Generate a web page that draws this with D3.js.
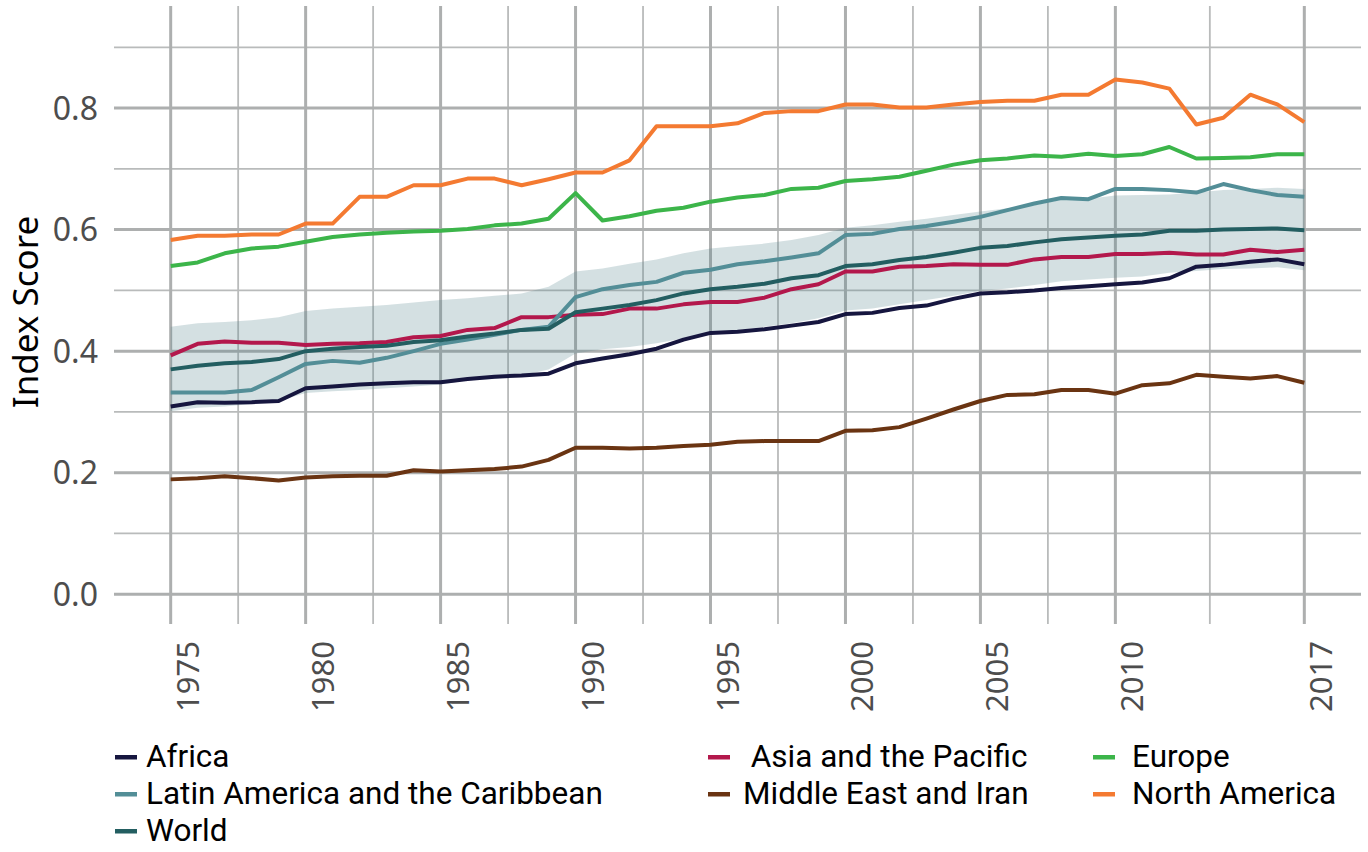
<!DOCTYPE html>
<html>
<head>
<meta charset="utf-8">
<script src="https://cdn.jsdelivr.net/npm/d3@7"></script>
<style>
  body { margin: 0; background: #fff; }
  svg { display: block; }
</style>
</head>
<body>
<script>
var years = d3.range(1975, 2018)

var africa = [0.309,0.316,0.315,0.316,0.318,0.339,0.342,0.345,0.347,0.349,0.349,0.354,0.358,0.360,0.363,
  0.380,0.388,0.395,0.404,0.419,0.430,0.432,0.436,0.442,0.448,0.461,0.463,0.471,0.475,0.486,
  0.495,0.497,0.500,0.504,0.507,0.510,0.513,0.520,0.539,0.542,0.547,0.551,0.543]
var asia = [0.393,0.412,0.416,0.414,0.414,0.410,0.412,0.413,0.415,0.423,0.425,0.435,0.438,0.456,0.456,
  0.460,0.461,0.470,0.470,0.477,0.481,0.481,0.488,0.502,0.510,0.531,0.531,0.539,0.540,0.543,
  0.542,0.542,0.551,0.555,0.555,0.560,0.560,0.562,0.559,0.559,0.567,0.563,0.567]
var europe = [0.540,0.546,0.561,0.569,0.572,0.580,0.588,0.592,0.595,0.597,0.598,0.601,0.607,0.610,0.618,
  0.660,0.615,0.622,0.631,0.636,0.646,0.653,0.657,0.667,0.669,0.680,0.683,0.687,0.697,0.707,
  0.714,0.717,0.722,0.720,0.725,0.721,0.724,0.736,0.717,0.718,0.719,0.724,0.724]
var latam = [0.332,0.332,0.332,0.336,0.357,0.379,0.384,0.381,0.389,0.400,0.412,0.419,0.427,0.435,0.440,
  0.489,0.502,0.509,0.514,0.529,0.534,0.543,0.548,0.554,0.561,0.591,0.593,0.601,0.606,0.613,
  0.621,0.632,0.643,0.652,0.650,0.667,0.667,0.665,0.661,0.675,0.665,0.657,0.654]
var mideast = [0.189,0.191,0.194,0.191,0.187,0.192,0.194,0.195,0.195,0.204,0.202,0.204,0.206,0.210,0.221,
  0.241,0.241,0.240,0.241,0.244,0.246,0.251,0.252,0.252,0.252,0.269,0.270,0.275,0.289,0.304,
  0.318,0.328,0.329,0.336,0.336,0.330,0.344,0.347,0.361,0.358,0.355,0.359,0.348]
var namerica = [0.583,0.590,0.590,0.592,0.592,0.610,0.610,0.654,0.654,0.673,0.673,0.684,0.684,0.673,0.683,
  0.694,0.694,0.714,0.770,0.770,0.770,0.775,0.792,0.795,0.795,0.806,0.806,0.801,0.801,0.806,
  0.810,0.812,0.812,0.822,0.822,0.847,0.842,0.832,0.773,0.784,0.822,0.806,0.777]
var world = [0.370,0.376,0.380,0.382,0.387,0.400,0.404,0.407,0.409,0.415,0.418,0.424,0.429,0.435,0.437,
  0.464,0.470,0.476,0.484,0.495,0.502,0.506,0.511,0.520,0.525,0.540,0.543,0.550,0.555,0.562,
  0.570,0.573,0.579,0.584,0.587,0.590,0.592,0.598,0.598,0.600,0.601,0.602,0.599]
var worldLow = [0.301,0.307,0.309,0.313,0.318,0.331,0.334,0.336,0.339,0.342,0.345,0.352,0.354,0.360,0.370,
  0.396,0.403,0.407,0.413,0.421,0.430,0.435,0.440,0.446,0.454,0.467,0.470,0.477,0.484,0.491,
  0.499,0.503,0.509,0.515,0.518,0.521,0.523,0.529,0.532,0.535,0.536,0.538,0.533]
var worldHigh = [0.440,0.446,0.448,0.451,0.456,0.466,0.470,0.473,0.476,0.480,0.484,0.487,0.491,0.495,0.506,
  0.531,0.536,0.544,0.551,0.561,0.569,0.573,0.577,0.583,0.591,0.603,0.607,0.613,0.618,0.624,
  0.630,0.635,0.640,0.649,0.651,0.656,0.657,0.658,0.661,0.665,0.667,0.669,0.667]

var regions = ['Africa', 'Asia and the Pacific', 'Europe', 'Latin America and the Caribbean',
  'Middle East and Iran', 'North America', 'World']
var values = [africa, asia, europe, latam, mideast, namerica, world]
var colors = ['#16163f', '#b3184c', '#3cb54a', '#538e97', '#6a3412', '#f47a31', '#235e61']

var xBreaks = [1975, 1980, 1985, 1990, 1995, 2000, 2005, 2010, 2017]
var yBreaks = [0, 0.2, 0.4, 0.6, 0.8]

var W = 1368, H = 852
var panel = {left: 114, right: 1361, top: 6, bottom: 624}

var x = d3.scaleLinear().domain([1975 - 2.1, 2017 + 2.1]).range([panel.left, panel.right])
var y = d3.scaleLinear().domain([-0.049, 0.968]).range([panel.bottom, panel.top])

var svg = d3.select('body').append('svg')
  .attr('width', W)
  .attr('height', H)

// minor breaks are the midpoints between majors
var xMinor = d3.pairs(xBreaks).map(p => (p[0] + p[1]) / 2)
var yMinor = d3.pairs(yBreaks).map(p => (p[0] + p[1]) / 2).concat([0.9])

var grid = svg.append('g').attr('stroke', '#adafaf')
grid.selectAll('.ymin').data(yMinor).enter().append('line')
  .attr('x1', panel.left).attr('x2', panel.right)
  .attr('y1', d => y(d)).attr('y2', d => y(d))
  .attr('stroke-width', 1.8).attr('stroke', '#b9bbbb')
grid.selectAll('.xmin').data(xMinor).enter().append('line')
  .attr('y1', panel.top).attr('y2', panel.bottom)
  .attr('x1', d => x(d)).attr('x2', d => x(d))
  .attr('stroke-width', 1.8).attr('stroke', '#b9bbbb')
grid.selectAll('.ymaj').data(yBreaks).enter().append('line')
  .attr('x1', panel.left).attr('x2', panel.right)
  .attr('y1', d => y(d)).attr('y2', d => y(d))
  .attr('stroke-width', 3)
grid.selectAll('.xmaj').data(xBreaks).enter().append('line')
  .attr('y1', panel.top).attr('y2', panel.bottom)
  .attr('x1', d => x(d)).attr('x2', d => x(d))
  .attr('stroke-width', 3)

// band around the world average
var area = d3.area()
  .x((d, i) => x(years[i]))
  .y0((d, i) => y(worldLow[i]))
  .y1((d, i) => y(worldHigh[i]))
svg.append('path')
  .datum(worldLow)
  .attr('d', area)
  .attr('fill', '#5a8790')
  .attr('fill-opacity', 0.26)

var line = d3.line().x((d, i) => x(years[i])).y(d => y(d))
svg.selectAll('.series').data(values).enter().append('path')
  .attr('d', line)
  .attr('fill', 'none')
  .attr('stroke', (d, i) => colors[i])
  .attr('stroke-width', 4)
  .attr('stroke-linejoin', 'round')

// axes text
var tickFont = '"Noto Sans", "DejaVu Sans", sans-serif'
svg.selectAll('.ylab').data(yBreaks).enter().append('text')
  .attr('x', 98)
  .attr('y', d => y(d))
  .attr('dy', '0.36em')
  .attr('text-anchor', 'end')
  .attr('font-family', tickFont)
  .attr('font-size', 32)
  .attr('fill', '#4d4d4d')
  .text(d => d3.format('.1f')(d))

svg.selectAll('.xlab').data(xBreaks).enter().append('text')
  .attr('transform', d => `translate(${x(d) + 28}, 712) rotate(-90)`)
  .attr('text-anchor', 'start')
  .attr('font-family', tickFont)
  .attr('font-size', 31)
  .attr('fill', '#4d4d4d')
  .text(d => d)

svg.append('text')
  .attr('transform', 'translate(38, 312) rotate(-90)')
  .attr('text-anchor', 'middle')
  .attr('font-family', tickFont)
  .attr('font-size', 35)
  .attr('fill', '#000')
  .text('Index Score')

// legend, filled by row in three columns
var colX = [115, 708, 1093]
var textDx = [31, 35, 39]
var rowY = [767, 804, 841]
var legendFont = 'Roboto, "Noto Sans", sans-serif'
var labels = regions.map(r => r === 'Asia and the Pacific' ? '\u00a0' + r : r)
var items = svg.selectAll('.key').data(regions).enter().append('g')
  .attr('transform', (d, i) => `translate(${colX[i % 3]}, ${rowY[Math.floor(i / 3)]})`)
items.append('rect')
  .attr('x', 0).attr('y', -12)
  .attr('width', 22).attr('height', 4.5)
  .attr('fill', (d, i) => colors[i])
items.append('text')
  .attr('x', (d, i) => textDx[i % 3])
  .attr('font-family', legendFont)
  .attr('font-size', 31.5)
  .attr('fill', '#000')
  .text((d, i) => labels[i])
</script>
</body>
</html>
